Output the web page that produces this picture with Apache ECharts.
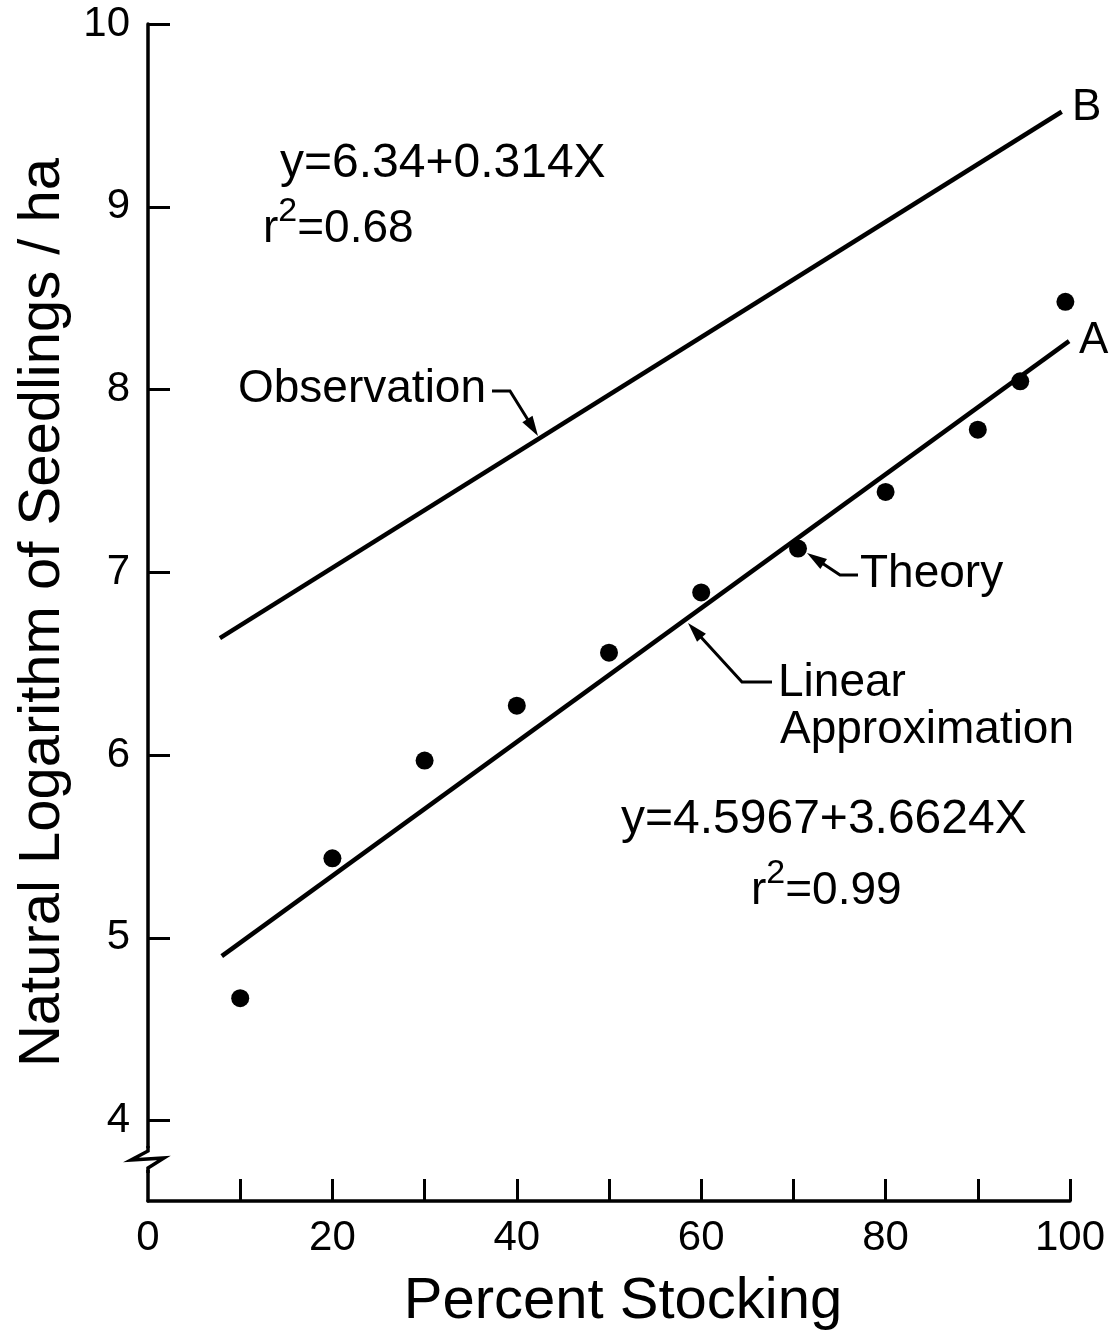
<!DOCTYPE html>
<html><head><meta charset="utf-8">
<script src="https://cdn.jsdelivr.net/npm/echarts@6/dist/echarts.min.js"></script>
<style>html,body{margin:0;padding:0;background:#fff}#c{width:1110px;height:1334px}</style>
</head><body><div id="c"></div>
<script>
// ---- data ----
const percentStocking   = [10, 20, 30, 40, 50, 60, 70.5, 80, 90, 94.6, 99.5];
const theoryLnSeedlings = [4.67, 5.435, 5.97, 6.27, 6.56, 6.89, 7.13, 7.44, 7.78, 8.045, 8.48];
const lineAX = [8.0, 99.9];
const lineAY = [4.90, 8.265];
const lineBX = [7.8, 99.1];
const lineBY = [6.64, 9.52];
const xTickValues  = [10, 20, 30, 40, 50, 60, 70, 80, 90, 100];
const xLabelValues = [0, 20, 40, 60, 80, 100];
const yTickValues  = [4, 5, 6, 7, 8, 9, 10];

const FONT = '"Liberation Sans", Arial, Helvetica, sans-serif';
const zip = (a, b) => a.map((v, i) => [v, b[i]]);

function arrow(pts, headLen, headW) {
  const n = pts.length;
  const [x1, y1] = pts[n - 2], [x2, y2] = pts[n - 1];
  const dx = x2 - x1, dy = y2 - y1, L = Math.hypot(dx, dy);
  const ux = dx / L, uy = dy / L, px = -uy, py = ux;
  const bx = x2 - ux * headLen, by = y2 - uy * headLen;
  const linePts = pts.slice(0, n - 1).concat([[bx + ux * 2, by + uy * 2]]);
  return [
    { type: 'polyline', z: 100, shape: { points: linePts }, style: { stroke: '#000', lineWidth: 3, fill: null } },
    { type: 'polygon', z: 100, shape: { points: [[x2, y2], [bx + px * headW, by + py * headW], [bx - px * headW, by - py * headW]] }, style: { fill: '#000' } }
  ];
}
function txt(x, y, text, size, align, extra) {
  return Object.assign({ type: 'text', z: 100, x: x, y: y,
    style: Object.assign({ text: text, fontSize: size, fontFamily: FONT, fill: '#000',
      align: align || 'left', verticalAlign: 'middle', textAlign: align || 'left', textVerticalAlign: 'middle' }, extra && extra.style) },
    extra && extra.el);
}
const sup = { rich: { s: { fontSize: 34, fontFamily: FONT, fill: '#000', padding: [0, 0, 34, 0] } } };

const chart = echarts.init(document.getElementById('c'));
chart.setOption({
  animation: false,
  backgroundColor: '#fff',
  grid: { left: 148, right: 40, top: 24, bottom: 133, containLabel: false, outerBoundsMode: 'none' },
  xAxis: {
    type: 'value', min: 0, max: 100,
    name: 'Percent Stocking', nameLocation: 'middle', nameGap: 72,
    nameTextStyle: { fontSize: 58, fontFamily: FONT, color: '#000', padding: [0, 0, 0, 28] },
    axisLine: { show: true, onZero: false, lineStyle: { color: '#000', width: 3.5 } },
    axisTick: { show: true, inside: true, length: 22, lineStyle: { color: '#000', width: 3 }, customValues: xTickValues },
    axisLabel: { show: true, margin: 16, fontSize: 42, fontFamily: FONT, color: '#000', customValues: xLabelValues },
    splitLine: { show: false }
  },
  yAxis: {
    type: 'value', min: 3.56, max: 10,
    name: 'Natural Logarithm of Seedlings / ha', nameLocation: 'middle', nameGap: 76, nameRotate: 90,
    nameTextStyle: { fontSize: 58, fontFamily: FONT, color: '#000' },
    axisLine: { show: true, onZero: false, lineStyle: { color: '#000', width: 3.5 } },
    axisTick: { show: true, inside: true, length: 22, lineStyle: { color: '#000', width: 3 }, customValues: yTickValues },
    axisLabel: { show: true, margin: 18, fontSize: 42, fontFamily: FONT, color: '#000', customValues: yTickValues },
    splitLine: { show: false }
  },
  series: [
    { name: 'Observation', type: 'line', data: zip(lineBX, lineBY), symbol: 'none', lineStyle: { color: '#000', width: 4.5 } },
    { name: 'Linear Approximation', type: 'line', data: zip(lineAX, lineAY), symbol: 'none', lineStyle: { color: '#000', width: 4.5 } },
    { name: 'Theory', type: 'scatter', data: zip(percentStocking, theoryLnSeedlings), symbol: 'circle', symbolSize: 18, itemStyle: { color: '#000', opacity: 1 } }
  ],
  graphic: [
    // axis break
    { type: 'rect', z: 90, shape: { x: 140, y: 1148, width: 16, height: 22 }, style: { fill: '#fff' } },
    { type: 'polyline', z: 95, shape: { points: [[148, 1146], [148, 1151], [131, 1160], [164, 1158], [148, 1168], [148, 1173]] }, style: { stroke: '#000', lineWidth: 3.5, fill: null } },
    // labels
    txt(1072, 108, 'B', 44),
    txt(1079, 341, 'A', 44),
    txt(280, 164, 'y=6.34+0.314X', 48),
    txt(263, 229, 'r{s|2}=0.68', 46, 'left', { style: sup }),
    txt(238, 389, 'Observation', 46),
    txt(860, 574, 'Theory', 46),
    txt(778, 683, 'Linear', 46),
    txt(780, 730, 'Approximation', 46),
    txt(621, 820, 'y=4.5967+3.6624X', 48),
    txt(751, 891, 'r{s|2}=0.99', 46, 'left', { style: sup })
  ].concat(
    arrow([[492, 391], [510, 391], [538, 436]], 20, 6),
    arrow([[858, 575], [840, 575], [807, 553]], 20, 6),
    arrow([[772, 682], [742, 682], [688, 623]], 20, 6)
  )
});
</script></body></html>
